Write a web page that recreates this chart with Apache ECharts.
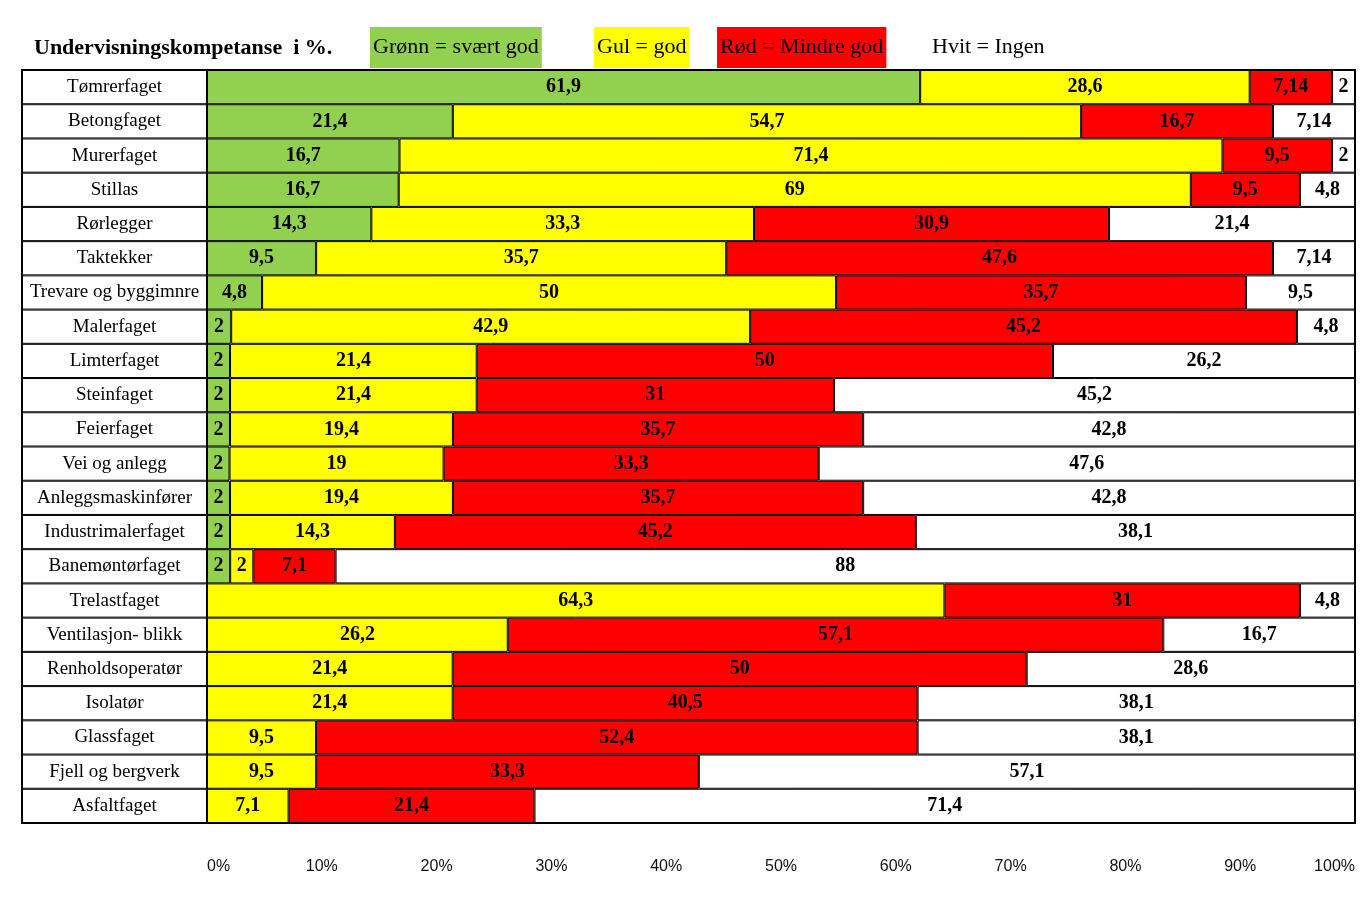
<!DOCTYPE html>
<html>
<head>
<meta charset="utf-8">
<script src="https://cdn.jsdelivr.net/npm/echarts@6/dist/echarts.min.js"></script>
<style>
html,body{margin:0;padding:0;background:#fff;overflow:hidden;}
#chart{width:1370px;height:897px;}
</style>
</head>
<body>
<div id="chart"></div>
<script>
const categories = ['Tømrerfaget','Betongfaget','Murerfaget','Stillas','Rørlegger','Taktekker','Trevare og byggimnre','Malerfaget','Limterfaget','Steinfaget','Feierfaget','Vei og anlegg','Anleggsmaskinfører','Industrimalerfaget','Banemøntørfaget','Trelastfaget','Ventilasjon- blikk','Renholdsoperatør','Isolatør','Glassfaget','Fjell og bergverk','Asfaltfaget'];
const green  = [61.9, 21.4, 16.7, 16.7, 14.3, 9.5, 4.8, 2, 2, 2, 2, 2, 2, 2, 2, null, null, null, null, null, null, null];
const yellow = [28.6, 54.7, 71.4, 69, 33.3, 35.7, 50, 42.9, 21.4, 21.4, 19.4, 19, 19.4, 14.3, 2, 64.3, 26.2, 21.4, 21.4, 9.5, 9.5, 7.1];
const red    = [7.14, 16.7, 9.5, 9.5, 30.9, 47.6, 35.7, 45.2, 50, 31, 35.7, 33.3, 35.7, 45.2, 7.1, 31, 57.1, 50, 40.5, 52.4, 33.3, 21.4];
const white  = [2, 7.14, 2, 4.8, 21.4, 7.14, 9.5, 4.8, 26.2, 45.2, 42.8, 47.6, 42.8, 38.1, 88, 4.8, 16.7, 28.6, 38.1, 38.1, 57.1, 71.4];
const seriesNames = ['Grønn = svært god', 'Gul = god', 'Rød = Mindre god', 'Hvit = Ingen'];
const seriesColors = ['#92D050', '#FFFF00', '#FF0000', '#FFFFFF'];
const titleText = 'Undervisningskompetanse  i %.';

const raw = [green, yellow, red, white];
const totals = categories.map((c, i) => raw.reduce((s, arr) => s + (arr[i] == null ? 0 : arr[i]), 0));
const fmt = v => String(v).replace('.', ',');
const SERIF = '"Liberation Serif", "Times New Roman", serif';

const chart = echarts.init(document.getElementById('chart'), null, {renderer: 'canvas', width: 1370, height: 897});

const valueSeries = raw.map((arr, k) => ({
  name: seriesNames[k],
  type: 'bar',
  stack: 'total',
  xAxisIndex: 1,
  yAxisIndex: 1,
  barWidth: '100%',
  barCategoryGap: '0%',
  itemStyle: {color: seriesColors[k], borderColor: '#000', borderWidth: 1},
  label: {
    show: true,
    position: 'inside',
    color: '#000',
    fontFamily: SERIF,
    fontWeight: 'bold',
    fontSize: 20,
    formatter: p => fmt(arr[p.dataIndex])
  },
  emphasis: {disabled: true},
  data: arr.map((v, i) => v == null ? '-' : v / totals[i] * 100)
}));

const legendPos = [360, 584, 707, 919];
const legends = seriesNames.map((n, k) => ({
  left: legendPos[k],
  top: 22,
  icon: 'none',
  itemWidth: 0,
  itemHeight: 0,
  selectedMode: false,
  data: [{name: n, textStyle: {backgroundColor: k < 3 ? seriesColors[k] : 'transparent'}}],
  textStyle: {fontFamily: SERIF, fontSize: 22, color: '#000', padding: [10, 3, 9, 3]}
}));

chart.setOption({
  animation: false,
  backgroundColor: '#fff',
  title: {
    text: titleText,
    left: 29,
    top: 32,
    textStyle: {fontFamily: SERIF, fontWeight: 'bold', fontSize: 22, color: '#000'}
  },
  legend: legends,
  grid: [
    {left: 22, top: 70, width: 185, height: 753, show: true, borderColor: '#000', borderWidth: 2,
     containLabel: false, outerBoundsMode: 'none'},
    {left: 207, top: 70, width: 1148, height: 753, show: true, borderColor: '#000', borderWidth: 2,
     containLabel: false, outerBoundsMode: 'none'}
  ],
  xAxis: [
    {gridIndex: 0, type: 'value', min: 0, max: 1, show: false},
    {gridIndex: 1, type: 'value', min: 0, max: 100, interval: 10,
     axisLine: {show: false}, axisTick: {show: false}, splitLine: {show: false},
     axisLabel: {formatter: '{value}%', margin: 36, fontSize: 16, color: '#111',
                 alignMinLabel: 'left', alignMaxLabel: 'right',
                 fontFamily: '"Liberation Sans Narrow", "Liberation Sans", sans-serif'}}
  ],
  yAxis: [
    {gridIndex: 0, type: 'category', data: categories, inverse: true, show: false},
    {gridIndex: 1, type: 'category', data: categories, inverse: true, show: false}
  ],
  series: [
    {
      name: 'kategori',
      type: 'bar',
      xAxisIndex: 0,
      yAxisIndex: 0,
      barWidth: '100%',
      barCategoryGap: '0%',
      itemStyle: {color: '#fff', borderColor: '#000', borderWidth: 1},
      label: {show: true, position: 'inside', color: '#000', fontFamily: SERIF, fontSize: 19,
              formatter: p => categories[p.dataIndex]},
      emphasis: {disabled: true},
      data: categories.map(() => 1)
    }
  ].concat(valueSeries)
});
</script>
</body>
</html>
